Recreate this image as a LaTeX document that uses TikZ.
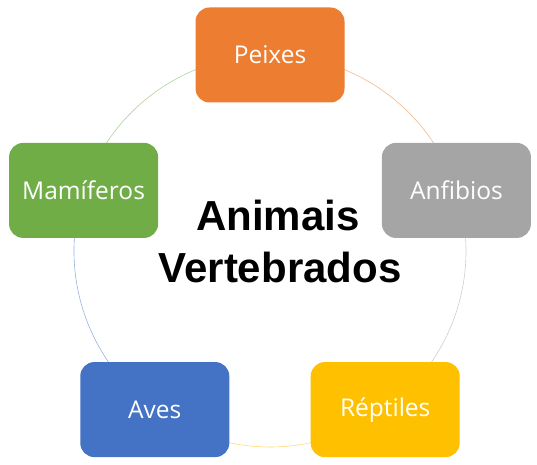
\documentclass[tikz,border=0pt]{standalone}
\usepackage{fontspec}
\setmainfont{Liberation Sans}
\newfontfamily\labfont{Open Sans}
\definecolor{cOrange}{HTML}{ED7D31}
\definecolor{cGray}{HTML}{A5A5A5}
\definecolor{cYellow}{HTML}{FFC000}
\definecolor{cBlue}{HTML}{4472C4}
\definecolor{cGreen}{HTML}{70AD47}
\begin{document}
\begin{tikzpicture}[x=1pt,y=1pt,
  box/.style={rounded corners=14pt, minimum width=149pt, minimum height=95pt, inner sep=0pt,
    text=white, font=\labfont\fontsize{24.5}{28}\selectfont},
  arcline/.style={line width=0.6pt, opacity=0.55},
  title/.style={anchor=base, font=\fontsize{42}{50}\selectfont\bfseries}]
\useasboundingbox (0,0) rectangle (537,464);
\coordinate (c) at (270,213);
\def\R{196}
\draw[arcline, cOrange] ([shift={(90:\R)}]c) arc[start angle=90, end angle=18, radius=\R];
\draw[arcline, cGray] ([shift={(18:\R)}]c) arc[start angle=18, end angle=-54, radius=\R];
\draw[arcline, cYellow] ([shift={(-54:\R)}]c) arc[start angle=-54, end angle=-126, radius=\R];
\draw[arcline, cBlue] ([shift={(-126:\R)}]c) arc[start angle=-126, end angle=-198, radius=\R];
\draw[arcline, cGreen] ([shift={(162:\R)}]c) arc[start angle=162, end angle=90, radius=\R];
\node[box, fill=cOrange] (peixes) at ([shift={(90:\R)}]c) {Peixes};
\node[box, fill=cGray] (anfibios) at ([shift={(18:\R)}]c) {Anfibios};
\node[box, fill=cYellow] (repteis) at ([shift={(-54:\R)}]c) {Réptiles};
\node[box, fill=cBlue] (aves) at ([shift={(-126:\R)}]c) {Aves};
\node[box, fill=cGreen] (mamiferos) at ([shift={(162:\R)}]c) {Mamíferos};
\node[title] (title1) at (278,234) {Animais};
\node[title] (title2) at (280,182) {Vertebrados};
\end{tikzpicture}
\end{document}
